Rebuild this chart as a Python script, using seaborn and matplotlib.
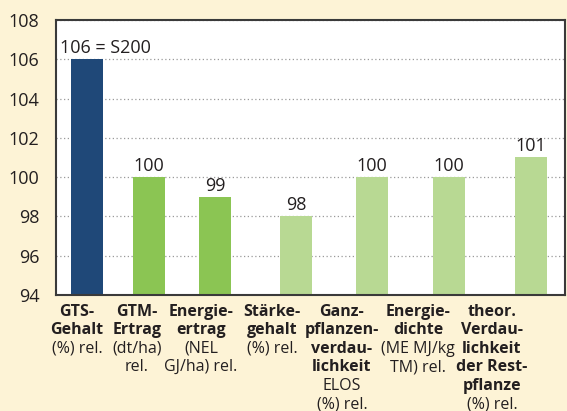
import numpy as np
import pandas as pd
import matplotlib
matplotlib.use("Agg")
import matplotlib.pyplot as plt
import seaborn as sns

# data
categories = ["GTS-Gehalt", "GTM-Ertrag", "Energieertrag", "Stärkegehalt",
              "Ganzpflanzenverdaulichkeit", "Energiedichte", "Verdaulichkeit Restpflanze"]
values = [106, 100, 99, 98, 100, 100, 101]
value_labels = ["106 = S200", "100", "99", "98", "100", "100", "101"]
# tick labels: (text, bold)
tick_lines = [
    [("GTS-", True), ("Gehalt", True), ("(%) rel.", False)],
    [("GTM-", True), ("Ertrag", True), ("(dt/ha)", False), ("rel.", False)],
    [("Energie-", True), ("ertrag", True), ("(NEL", False), ("GJ/ha) rel.", False)],
    [("Stärke-", True), ("gehalt", True), ("(%) rel.", False)],
    [("Ganz-", True), ("pflanzen-", True), ("verdau-", True), ("lichkeit", True),
     ("ELOS", False), ("(%) rel.", False)],
    [("Energie-", True), ("dichte", True), ("(ME MJ/kg", False), ("TM) rel.", False)],
    [("theor.", True), ("Verdau-", True), ("lichkeit", True), ("der Rest-", True),
     ("pflanze", True), ("(%) rel.", False)],
]

# layout (x in pixel-like axis units)
bar_pos = [87, 149, 215, 296, 372, 449, 531]
label_x = [77, 137, 201, 272, 342, 418, 492]
value_dx = [18, 0, 0, 0, 0, 0, 0]
colors = ["#1F4878", "#8BC553", "#8BC553", "#B8D993", "#B8D993", "#B8D993", "#B8D993"]
bg = "#FDF3D6"
txt = "#231F20"

sns.set_style("white")
plt.rcParams["font.family"] = ["Open Sans", "DejaVu Sans"]

fig = plt.figure(figsize=(5.67, 4.11), dpi=100, facecolor=bg)
ax = fig.add_axes([56 / 567, 116 / 411, 509 / 567, 275 / 411])

df = pd.DataFrame({"pos": bar_pos, "wert": values, "kat": categories})
sns.barplot(data=df, x="pos", y="wert", hue="kat", palette=colors, native_scale=True,
            width=32 / 62, saturation=1, linewidth=0, legend=False, ax=ax)

ax.set_ylim(94, 108)
ax.set_yticks(range(94, 109, 2))
ax.set_xlim(56, 565)
ax.set_xticks([])
ax.set_xlabel("")
ax.set_ylabel("")
ax.tick_params(axis="y", length=0, pad=12, labelsize=13, labelcolor=txt)
ax.yaxis.grid(True, linestyle=(0, (1, 2)), color="#9a9a9a", linewidth=0.9)
ax.set_axisbelow(True)
for s in ax.spines.values():
    s.set_color("#3a3a3a")
    s.set_linewidth(1.5)

# value labels
for p, v, lab, dx in zip(bar_pos, values, value_labels, value_dx):
    ax.annotate(lab, (p, v), xytext=(dx, 6), textcoords="offset pixels",
                ha="center", va="baseline", fontsize=13, color=txt)

# category labels below
for lx, lines in zip(label_x, tick_lines):
    for i, (t, b) in enumerate(lines):
        ax.annotate(t, (lx, 0), xycoords=("data", "axes fraction"),
                    xytext=(0, -20.5 - 18.5 * i), textcoords="offset pixels",
                    ha="center", va="baseline", fontsize=11.5, color=txt,
                    fontweight="bold" if b else "normal", annotation_clip=False)

fig.savefig("out.png", dpi=100, facecolor=bg)
